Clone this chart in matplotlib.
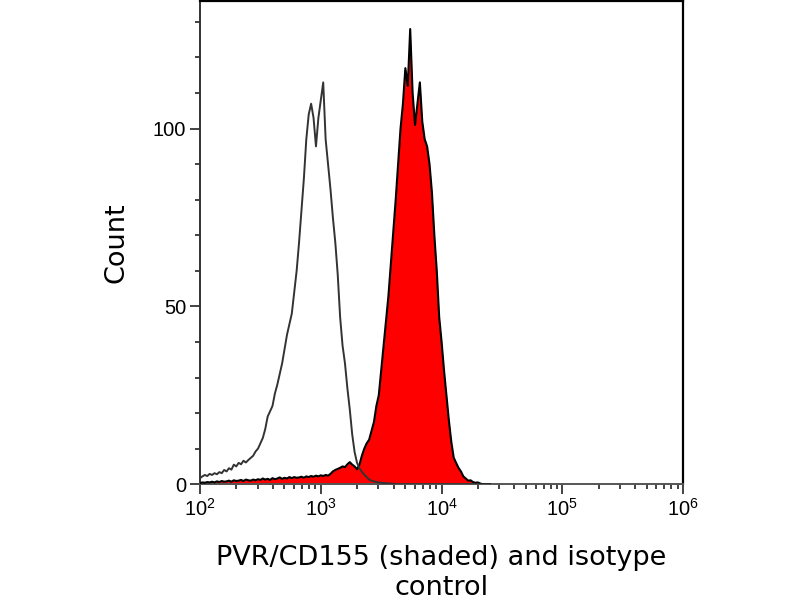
import numpy as np
import matplotlib.pyplot as plt
from matplotlib.ticker import LogLocator, MultipleLocator, FixedLocator

# channel grid (log10 of intensity), 0.02 decade per channel, 10^2 .. 10^4.4
log_start = 2.0
log_step = 0.02

# isotype control (outline only)
isotype = [1.7, 2.2, 2.6, 2.3, 2.9, 2.6, 3.1, 2.8, 3.4, 3.1, 4.0, 3.6, 4.5, 4.1, 5.5, 5.0, 6.0, 5.6, 6.6, 6.1, 6.8,
           7.4, 8.0, 9.2, 10.0, 11.5, 13.0, 15.5, 19.0, 20.5, 22.0, 25.5, 28.0, 31.0, 34.0, 38.0, 42.0, 45.0, 48.0, 54.0,
           60, 68, 77, 86, 97, 104, 107, 103, 95, 103, 108, 113, 97, 90, 83, 75,
           68, 59, 47, 39, 34, 27, 21, 14, 9, 6, 4.5, 3.5, 2.7, 2.0, 1.3, 1.0, 0.8, 0.6, 0.5, 0.4, 0.3, 0.3, 0.2, 0.2, 0.1,
           0, 0, 0, 0, 0, 0, 0, 0, 0, 0, 0, 0, 0, 0, 0, 0, 0, 0, 0, 0,
           0, 0, 0, 0, 0, 0, 0, 0, 0, 0, 0, 0, 0, 0, 0, 0, 0, 0, 0, 0]

# PVR/CD155 stained (shaded)
pvr = [0.3, 0.5, 0.4, 0.6, 0.5, 0.7, 0.5, 0.8, 0.6, 0.9, 0.7, 0.8, 1.0, 0.7, 1.1, 0.9, 1.0, 1.2, 0.9, 1.3, 1.1,
       1.0, 1.3, 1.1, 1.4, 1.2, 1.6, 1.3, 1.5, 1.2, 1.7, 1.4, 1.6, 1.9, 1.5, 1.8, 1.6, 2.0, 1.7, 2.0, 1.8,
       1.9, 2.1, 1.8, 2.2, 2.0, 2.3, 2.1, 2.4, 2.2, 2.5, 2.3, 2.6, 2.4, 2.9, 3.6,
       4.0, 4.3, 4.6, 5.0, 4.8, 5.6, 6.2, 5.5, 5.0, 4.2, 5.5,
       8, 10, 11.5, 12.5, 15, 17.5, 22, 25, 32, 39, 46, 53, 62, 71, 80, 90, 100, 107, 117, 112, 128,
       110, 101, 107, 113, 102, 97, 95, 90, 82, 70, 60, 47, 40, 32, 25, 18, 12, 7.5, 6, 4.6,
       3.6, 2.2, 1.6, 1.0, 1.1, 0.6, 0.4, 0.5, 0.2, 0, 0, 0, 0]

x_ticks = [1e2, 1e3, 1e4, 1e5, 1e6]
y_ticks = [0, 50, 100]
x_name = 'PVR/CD155 (shaded) and isotype\ncontrol'
y_name = 'Count'

x = 10 ** (log_start + log_step * np.arange(len(pvr)))
x_iso = 10 ** (log_start + log_step * np.arange(len(isotype)))

fig = plt.figure(figsize=(8, 6), dpi=100)
ax = fig.add_axes([0.25, 0.193, 0.604, 0.806])

ax.fill_between(x, pvr, 0, color='#ff0000', lw=0, zorder=2)
ax.plot(x, pvr, color='black', lw=1.5, zorder=3)
ax.plot(x_iso, isotype, color='#333333', lw=1.4, zorder=4)

ax.set_xscale('log')
ax.set_xlim(1e2, 1e6)
ax.set_ylim(0, 136)
ax.xaxis.set_major_locator(FixedLocator(x_ticks))
ax.xaxis.set_minor_locator(LogLocator(base=10, subs=np.arange(2, 10)))
ax.yaxis.set_major_locator(FixedLocator(y_ticks))
ax.yaxis.set_minor_locator(MultipleLocator(10))

for side in ['top', 'right']:
    ax.spines[side].set_color('black')
    ax.spines[side].set_linewidth(1.6)
ax.spines['left'].set_color('#333333')
ax.spines['left'].set_linewidth(1.4)
ax.spines['bottom'].set_color('#555555')
ax.spines['bottom'].set_linewidth(1.4)

ax.tick_params(which='major', length=7, width=1.2, color='#222222', labelsize=14.5,
               labelfontfamily='Liberation Sans', pad=3)
ax.tick_params(which='minor', length=3.5, width=1.2, color='#222222')

ax.set_xlabel(x_name, fontsize=19.5, labelpad=18, linespacing=1.2)
ax.set_ylabel(y_name, fontsize=19.5, labelpad=17)

fig.savefig('out.png', dpi=100)
